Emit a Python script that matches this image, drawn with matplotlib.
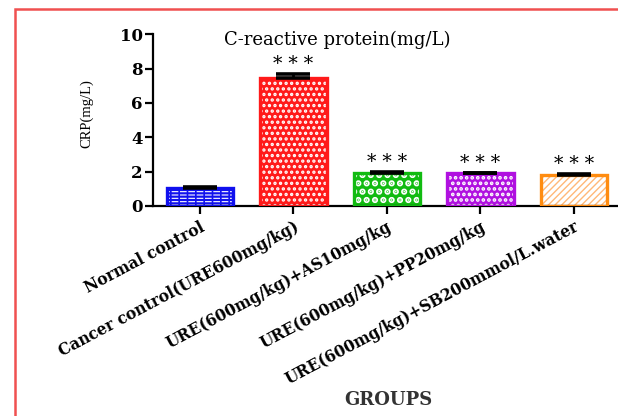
import matplotlib
matplotlib.use("Agg")
import matplotlib.pyplot as plt
from matplotlib.patches import Rectangle

groups = ["Normal control", "Cancer control(URE600mg/kg)", "URE(600mg/kg)+AS10mg/kg",
          "URE(600mg/kg)+PP20mg/kg", "URE(600mg/kg)+SB200mmol/L.water"]
values = [1.05, 7.45, 1.95, 1.9, 1.82]
errors = [0.05, 0.25, 0.04, 0.04, 0.04]
signif = ["", "* * *", "* * *", "* * *", "* * *"]
colors = ["#1010ee", "#ff1a1a", "#11bb11", "#b010e0", "#ff8c10"]
faces = ["#1010ee", "#ff1a1a", "#11bb11", "#b010e0", "white"]
hatches = ["-----", "...", "..", "...", "/////"]
hatchcol = ["white", "white", "white", "white", "#ffb878"]
hatchlw = [0.8, 1.6, 3.2, 1.8, 1.0]

WIDE = ['DejaVu Serif']
plt.rcParams['font.family'] = ['Liberation Serif', 'DejaVu Serif']

W, H = 618, 416
fig = plt.figure(figsize=(W/100, H/100), dpi=100)
ax = fig.add_axes([153/W, (H-206)/H, 486/W, 171.7/H])

x = list(range(len(groups)))


def hbar(xi, v, fc, ec, h, hl, z):
    with plt.rc_context({'hatch.linewidth': hl}):
        b = ax.bar(xi, v, width=0.71, color=fc, edgecolor=ec, hatch=h, linewidth=0,
                   zorder=z)
        for p in b:
            if hasattr(p, 'set_hatch_linewidth'):
                p.set_hatch_linewidth(hl)


for xi, v, fc, hc, h, hl in zip(x, values, faces, hatchcol, hatches, hatchlw):
    hbar(xi, v, fc, hc, h, hl, 2)
# vertical breaks in the blue dashed pattern
hbar(x[0], values[0], 'none', colors[0], '||', 1.2, 2.5)

ax.bar(x, values, width=0.71, fill=False, edgecolor=colors, linewidth=2.4, zorder=3)
ax.errorbar(x, values, yerr=[[0]*len(values), errors], fmt='none', ecolor='black',
            elinewidth=2.0, capsize=12, capthick=2.6, zorder=4)
for xi, v, e, s in zip(x, values, errors, signif):
    if s:
        ax.text(xi, v + e + 0.3, s, ha='center', va='baseline', fontsize=13.5,
                family=WIDE)

ax.set_xlim(-0.503, 4.697)
ax.set_ylim(0, 10)
ax.set_yticks([0, 2, 4, 6, 8, 10])
ax.spines['top'].set_visible(False)
ax.spines['right'].set_visible(False)
for sp in ['left', 'bottom']:
    ax.spines[sp].set_linewidth(1.6)
ax.tick_params(axis='both', width=1.6, length=5.5)
ax.tick_params(axis='y', pad=2)
ax.set_yticklabels(["0", "2", "4", "6", "8", "10"], fontweight='bold', fontsize=12,
                   family=WIDE)
ax.set_xticks(x)
ax.set_xticklabels(groups, rotation=28, ha='right', rotation_mode='anchor',
                   fontweight='bold', fontsize=11.2, family=WIDE)
ax.set_ylabel("CRP(mg/L)", fontsize=10.5)
ax.yaxis.set_label_coords(-0.123, 0.54)
ax.text(0.38, 0.965, "C-reactive protein(mg/L)", transform=ax.transAxes,
        ha='center', va='center', fontsize=13, family=WIDE)
fig.text(388/W, 1 - 400/H, "GROUPS", ha='center', va='center', fontsize=13,
         fontweight='bold', color='#333333', family=WIDE)

fig.patches.append(Rectangle((15/W, -0.1), 1.2, (H-9)/H + 0.1, transform=fig.transFigure,
                             fill=False, edgecolor='#f05050', linewidth=1.8))

fig.savefig("out.png", dpi=100)
